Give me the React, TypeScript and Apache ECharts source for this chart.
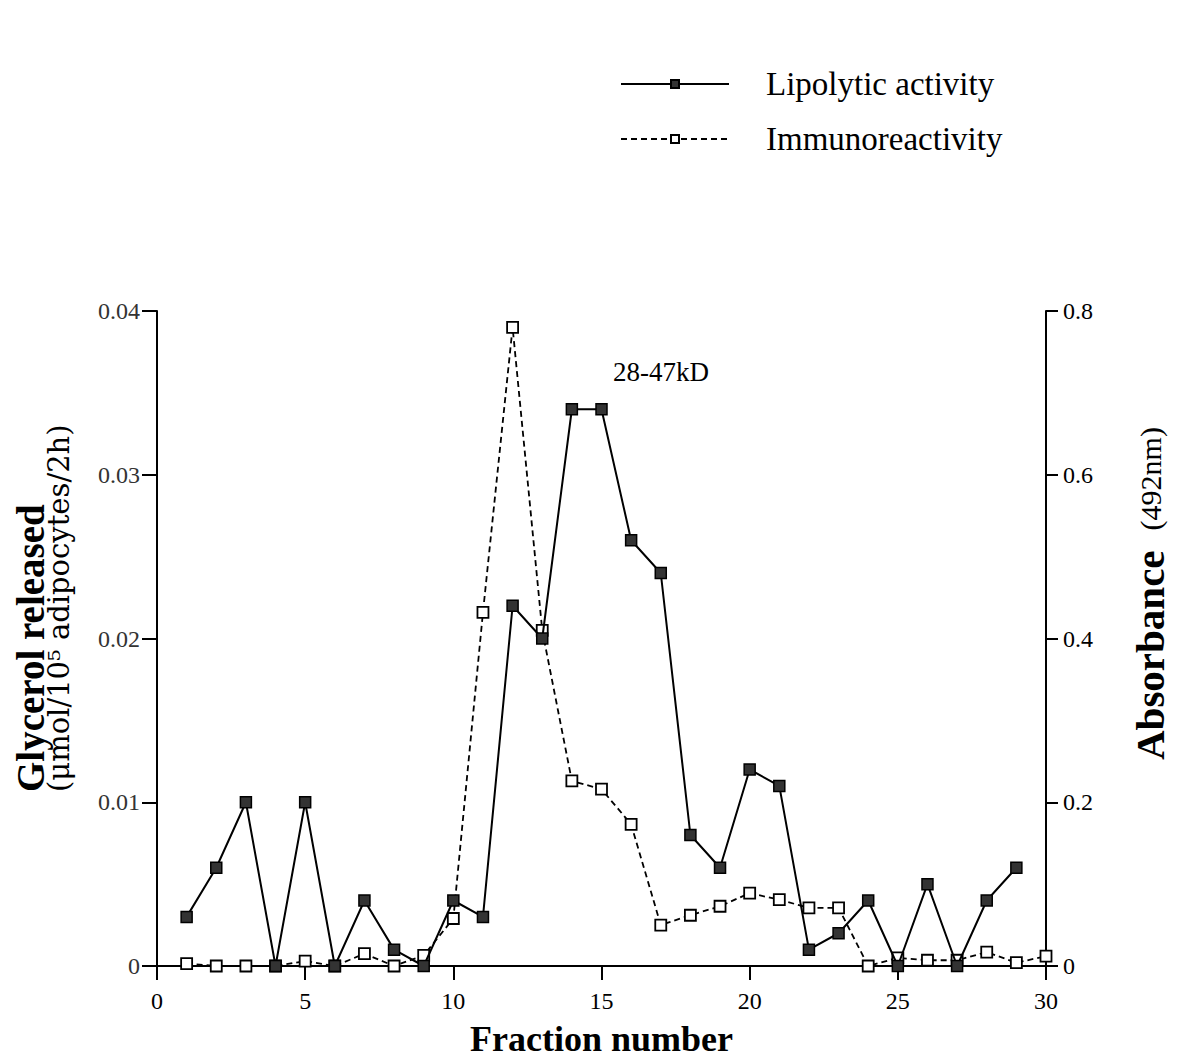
import React, { useEffect, useRef } from "react";
import * as echarts from "echarts";

const fractions = [1,2,3,4,5,6,7,8,9,10,11,12,13,14,15,16,17,18,19,20,21,22,23,24,25,26,27,28,29,30];
const lipolytic = [0.003,0.006,0.010,0,0.010,0,0.004,0.001,0,0.004,0.003,0.022,0.020,0.034,0.034,0.026,0.024,0.008,0.006,0.012,0.011,0.001,0.002,0.004,0,0.005,0,0.004,0.006];
const immuno = [0.003,0,0,0,0.006,0,0.015,0,0.013,0.058,0.432,0.78,0.41,0.226,0.216,0.173,0.05,0.062,0.073,0.089,0.081,0.071,0.071,0,0.01,0.007,0.007,0.017,0.004,0.012];
const leftTicks = [0, 0.01, 0.02, 0.03, 0.04];
const rightTicks = [0, 0.2, 0.4, 0.6, 0.8];

const FONT = "Liberation Serif";

export default function App() {
  const ref = useRef<HTMLDivElement>(null);
  useEffect(() => {
    const chart = echarts.init(ref.current!, null, { renderer: "svg" });
    const lipData = lipolytic.map((v, i) => [fractions[i], v]);
    const immData = immuno.map((v, i) => [fractions[i], v]);
    chart.setOption({
      animation: false,
      backgroundColor: "#ffffff",
      textStyle: { fontFamily: FONT, color: "#000" },
      grid: { left: 157, right: 134, top: 311, bottom: 96, containLabel: false, outerBoundsMode: "none" },
      legend: {
        left: 620,
        top: 67,
        padding: 0,
        orient: "vertical",
        itemWidth: 108,
        itemHeight: 10,
        itemGap: 21,
        textStyle: { fontFamily: FONT, fontSize: 33, lineHeight: 34, color: "#000", padding: [0, 0, 0, 32] },
        data: ["Lipolytic activity", "Immunoreactivity"],
      },
      xAxis: {
        type: "value",
        min: 0,
        max: 30,
        interval: 5,
        name: "Fraction number",
        nameLocation: "middle",
        nameGap: 55,
        nameTextStyle: { fontFamily: FONT, fontSize: 36, fontWeight: "bold", color: "#000" },
        axisLine: { show: true, lineStyle: { color: "#000", width: 2 } },
        axisTick: { show: true, inside: false, length: 14, lineStyle: { color: "#000", width: 2 } },
        axisLabel: { fontFamily: FONT, fontSize: 24, color: "#000", margin: 23 },
        splitLine: { show: false },
      },
      yAxis: [
        {
          type: "value",
          min: 0,
          max: 0.04,
          interval: 0.01,
          position: "left",
          axisLine: { show: true, lineStyle: { color: "#000", width: 2 } },
          axisTick: { show: true, length: 15, lineStyle: { color: "#000", width: 2 } },
          axisLabel: {
            fontFamily: FONT,
            fontSize: 24,
            color: "#333",
            margin: 17,
            formatter: (v: number) => {
              const t = leftTicks.find((x) => Math.abs(x - v) < 1e-9);
              return t === undefined ? "" : t === 0 ? "0" : t.toFixed(2);
            },
          },
          splitLine: { show: false },
        },
        {
          type: "value",
          min: 0,
          max: 0.8,
          interval: 0.2,
          position: "right",
          axisLine: { show: true, lineStyle: { color: "#000", width: 2 } },
          axisTick: { show: true, length: 12, lineStyle: { color: "#000", width: 2 } },
          axisLabel: {
            fontFamily: FONT,
            fontSize: 24,
            color: "#000",
            margin: 17,
            formatter: (v: number) => {
              const t = rightTicks.find((x) => Math.abs(x - v) < 1e-9);
              return t === undefined ? "" : t === 0 ? "0" : t.toFixed(1);
            },
          },
          splitLine: { show: false },
        },
      ],
      series: [
        {
          name: "Lipolytic activity",
          type: "line",
          yAxisIndex: 0,
          data: lipData,
          symbol: "rect",
          symbolSize: 11,
          lineStyle: { color: "#000", width: 2, type: "solid" },
          itemStyle: { color: "#333", borderColor: "#000", borderWidth: 1.5 },
          z: 3,
        },
        {
          name: "Immunoreactivity",
          type: "line",
          yAxisIndex: 1,
          data: immData,
          symbol: "rect",
          symbolSize: 11,
          lineStyle: { color: "#000", width: 1.8, type: [6, 4] },
          itemStyle: { color: "#fff", borderColor: "#000", borderWidth: 1.8 },
          z: 2,
        },
      ],
      graphic: [
        {
          type: "text",
          x: 613,
          y: 372,
          style: { text: "28-47kD", font: `27px '${FONT}'`, fill: "#000", textAlign: "left", textVerticalAlign: "middle" },
        },
        {
          type: "text",
          x: 30,
          y: 792,
          rotation: Math.PI / 2,
          style: { text: "Glycerol released", font: `bold 39px '${FONT}'`, fill: "#000", textAlign: "left", textVerticalAlign: "middle" },
        },
        {
          type: "text",
          x: 59,
          y: 792,
          rotation: Math.PI / 2,
          style: { text: "(μmol/10⁵ adipocytes/2h)", font: `29px 'DejaVu Serif'`, fill: "#000", textAlign: "left", textVerticalAlign: "middle" },
        },
        {
          type: "text",
          x: 1150,
          y: 760,
          rotation: Math.PI / 2,
          style: {
            text: "{b|Absorbance}{g| }{n|(492nm)}",
            textAlign: "left",
            textVerticalAlign: "middle",
            rich: {
              b: { fontFamily: FONT, fontSize: 41, fontWeight: "bold", fill: "#000" },
              g: { fontFamily: FONT, fontSize: 30, width: 20 },
              n: { fontFamily: FONT, fontSize: 30, fill: "#000" },
            },
          },
        },
      ],
    });
    return () => chart.dispose();
  }, []);
  return <div ref={ref} style={{ position: "absolute", left: 0, top: 0, width: 1180, height: 1062 }} />;
}
